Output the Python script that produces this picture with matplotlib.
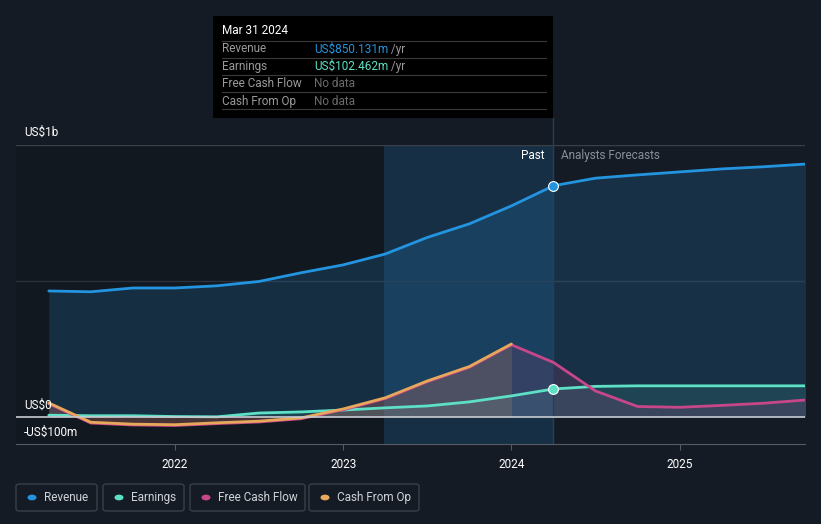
import matplotlib
matplotlib.use("Agg")
import matplotlib.pyplot as plt
from matplotlib.patches import Rectangle, FancyBboxPatch, Circle
from matplotlib.lines import Line2D

plt.rcParams["font.family"] = ["Roboto", "DejaVu Sans"]

# quarterly points, decimal years (US$ m)
rev_x = [2021.25, 2021.5, 2021.75, 2022.0, 2022.25, 2022.5, 2022.75, 2023.0,
         2023.25, 2023.5, 2023.75, 2024.0, 2024.25,
         2024.5, 2024.75, 2025.0, 2025.25, 2025.5, 2025.75]
revenue = [463, 460, 474, 474, 482, 498, 530, 559,
           599, 660, 710, 776, 850.131,
           878, 890, 901, 912, 920, 930]
earnings = [6, 4, 4, 1, 0, 14, 18, 25,
            33, 40, 55, 77, 102.462,
            112, 114, 114, 114, 114, 114]

cfo_x = [2021.25, 2021.5, 2021.75, 2022.0, 2022.25, 2022.5, 2022.75, 2023.0,
         2023.25, 2023.5, 2023.75, 2024.0]
cash_from_op = [51, -20, -27, -29, -22, -16, -4, 29, 70, 132, 185, 268]

fcf_x = [2021.25, 2021.5, 2021.75, 2022.0, 2022.25, 2022.5, 2022.75, 2023.0,
         2023.25, 2023.5, 2023.75, 2024.0,
         2024.25, 2024.5, 2024.75, 2025.0, 2025.25, 2025.5, 2025.75]
free_cash_flow = [48, -23, -30, -32, -25, -19, -7, 26, 67, 129, 182, 265,
                  200, 95, 38, 35, 42, 50, 62]

year_ticks = [2022, 2023, 2024, 2025]

BG = "#151b24"
C_REV = "#2394df"
C_EARN = "#5de0c5"
C_FCF = "#c8468a"
C_CFO = "#e8a85c"
W, H = 821, 524


def fx(px):
    return px / W


def fy(py):
    return 1 - py / H


fig = plt.figure(figsize=(8.21, 5.24), dpi=100, facecolor=BG)
ax = fig.add_axes([fx(16), fy(444), fx(805) - fx(16), fy(145) - fy(444)])
ax.set_facecolor(BG)
ax.set_xlim(2021.055, 2025.745)
ax.set_ylim(-100, 1000)

# darker past area and highlighted last year
ax.axvspan(2021.055, 2023.24, color="#0e1218", alpha=0.3, lw=0, zorder=0)
ax.axvspan(2023.24, 2024.25, color="#1b5582", alpha=0.35, lw=0, zorder=0)
ax.axvline(2024.25, color="#24415a", lw=1, zorder=4)

# grid
for v, c in [(1000, "#3a404a"), (500, "#2a313b")]:
    ax.axhline(v, color=c, lw=1, zorder=1)
ax.axhline(0, color="#c8cbd0", lw=1.2, zorder=6)

# fills
ax.fill_between(rev_x, revenue, 0, color=C_REV, alpha=0.18, lw=0, zorder=2)
ax.fill_between(rev_x, earnings, 0, color=C_EARN, alpha=0.12, lw=0, zorder=3)
ax.fill_between(fcf_x, free_cash_flow, 0, color=C_FCF, alpha=0.15, lw=0, zorder=3)
ax.fill_between(cfo_x, cash_from_op, 0, color=C_CFO, alpha=0.15, lw=0, zorder=3)

# lines
ax.plot(rev_x, revenue, color=C_REV, lw=2, zorder=5, solid_capstyle="round")
ax.plot(rev_x, earnings, color=C_EARN, lw=2, zorder=5, solid_capstyle="round")
ax.plot(fcf_x, free_cash_flow, color=C_FCF, lw=2, zorder=5, solid_capstyle="round")
ax.plot(cfo_x, cash_from_op, color=C_CFO, lw=2, zorder=5, solid_capstyle="round")

# markers at Mar 31 2024
ax.scatter([rev_x[12]], [revenue[12]], s=50, color=C_REV, edgecolor="white", lw=0.8, zorder=8)
ax.scatter([rev_x[12]], [earnings[12]], s=50, color=C_EARN, edgecolor="white", lw=0.8, zorder=8)

# axes styling
for s in ["top", "right", "left"]:
    ax.spines[s].set_visible(False)
ax.spines["bottom"].set_color("#555c66")
ax.set_yticks([])
ax.set_xticks(year_ticks)
ax.set_xticklabels([str(y) for y in year_ticks])
ax.tick_params(axis="x", colors="#555c66", labelcolor="white", labelsize=8.5, length=4, pad=6)

# y labels
fig.text(fx(24), fy(132), "US$1b", color="white", fontsize=8.5, va="center")
fig.text(fx(24), fy(405), "US$0", color="white", fontsize=8.5, va="center")
fig.text(fx(24), fy(432), "-US$100m", color="white", fontsize=8.5, va="center")

fig.text(fx(545), fy(156), "Past", color="white", fontsize=8.5, va="center", ha="right")
fig.text(fx(561), fy(156), "Analysts Forecasts", color="#8a8f98", fontsize=8.5, va="center")

# cursor line above the plot, up to the tooltip
fig.add_artist(Line2D([fx(553), fx(553)], [fy(118), fy(145)], color="#24415a", lw=1, zorder=1))

# tooltip
fig.add_artist(Rectangle((fx(213), fy(118)), fx(553) - fx(213), fy(16) - fy(118),
                         facecolor="#000000", edgecolor="none", zorder=10))
fig.text(fx(222), fy(31), "Mar 31 2024", color="white", fontsize=8.5, va="center", zorder=11)
for yy in [41, 58, 75, 92, 109]:
    fig.add_artist(Line2D([fx(222), fx(546)], [fy(yy), fy(yy)], color="#3a3a3a", lw=0.8, zorder=11))
rows = [("Revenue", "US$850.131m", C_REV, True),
        ("Earnings", "US$102.462m", C_EARN, True),
        ("Free Cash Flow", "No data", "#6b6b6b", False),
        ("Cash From Op", "No data", "#6b6b6b", False)]
for i, (lab, val, col, per) in enumerate(rows):
    yy = 49 + i * 17.5
    fig.text(fx(222), fy(yy), lab, color="#9a9a9a", fontsize=8.5, va="center", zorder=11)
    t = fig.text(fx(314), fy(yy), val, color=col, fontsize=8.5, va="center", zorder=11)
    if per:
        fig.add_artist(plt.Annotation(" /yr", xy=(1, 0.5), xycoords=t, color="#9a9a9a",
                                      fontsize=8.5, va="center", zorder=11))

# legend
legend = [("Revenue", C_REV, 16, 97), ("Earnings", C_EARN, 103, 184),
          ("Free Cash Flow", C_FCF, 190, 305), ("Cash From Op", C_CFO, 309, 419)]
for lab, col, x0, x1 in legend:
    fig.add_artist(FancyBboxPatch((fx(x0), fy(511)), fx(x1) - fx(x0), fy(484) - fy(511),
                                  boxstyle="round,pad=0,rounding_size=0.004",
                                  facecolor=BG, edgecolor="#3a404a", lw=1))
    fig.add_artist(Circle((fx(x0 + 16), fy(497.5)), 0.0055, facecolor=col, edgecolor="none",
                          transform=fig.transFigure))
    fig.text(fx(x0 + 28), fy(497.5), lab, color="#d0d3d8", fontsize=8.5, va="center")

fig.savefig("out.png", dpi=100, facecolor=BG)
